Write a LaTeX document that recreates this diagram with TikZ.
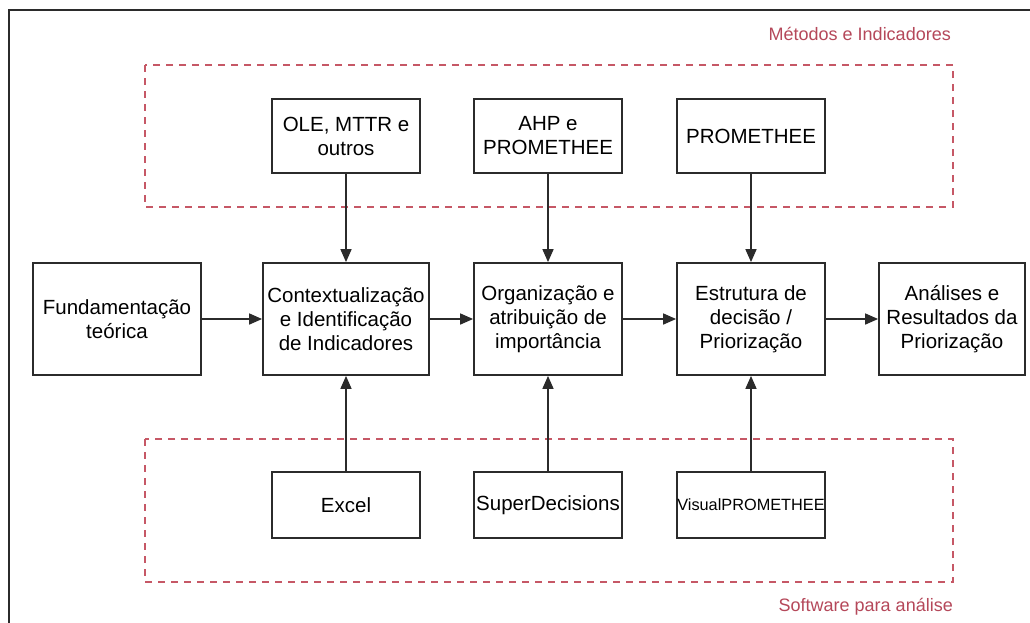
\documentclass[tikz,border=0pt]{standalone}
\usepackage{fontspec}
\setmainfont{Liberation Sans}
\usetikzlibrary{arrows.meta}
\definecolor{framegray}{HTML}{2B2B2B}
\definecolor{groupred}{HTML}{C65866}
\definecolor{labelred}{HTML}{B5485A}
\tikzset{
  box/.style={draw=framegray, line width=1.8pt, fill=white, align=center,
    inner sep=0pt, font=\fontsize{20.5}{24}\selectfont},
  mainbox/.style={box, minimum height=112pt},
  topbox/.style={box, minimum height=74pt},
  softbox/.style={box, minimum height=66pt},
  group/.style={draw=groupred, line width=1.4pt, dash pattern=on 7pt off 6pt},
  grouplabel/.style={text=labelred, anchor=east, inner sep=0pt,
    font=\fontsize{18}{21}\selectfont},
  flow/.style={draw=framegray, line width=1.6pt,
    -{Triangle[length=13pt,width=11pt]}},
}
\begin{document}
\begin{tikzpicture}[x=1pt,y=-1pt]
\useasboundingbox (0,0) rectangle (1030,622);
\fill[white] (0,0) rectangle (1030,622);
\begin{scope}
\clip (0,0) rectangle (1030,622);
% outer frame (left and top edges visible)
\draw[framegray, line width=2pt] (9,640) -- (9,10) -- (1050,10);
\end{scope}

% group frames
\draw[group] (145,65) rectangle (953,207);
\draw[group] (145,439) rectangle (953,582);
\node[grouplabel] (lblmet) at (951,34) {Métodos e Indicadores};
\node[grouplabel] (lblsoft) at (953,607) {Software para análise};

% main process row
\node[mainbox, minimum width=168pt] (fund) at (117,319) {Fundamentação\\teórica};
\node[mainbox, minimum width=166pt] (ctx) at (346,319) {Contextualização\\e Identificação\\de Indicadores};
\node[mainbox, minimum width=148pt] (org) at (548,319) {Organização e\\atribuição de\\importância};
\node[mainbox, minimum width=148pt] (est) at (751,319) {Estrutura de\\decisão /\\Priorização};
\node[mainbox, minimum width=146pt] (ana) at (952,319) {Análises e\\Resultados da\\Priorização};

% methods and indicators
\node[topbox, minimum width=148pt] (ole) at (346,136) {OLE, MTTR e\\outros};
\node[topbox, minimum width=148pt] (ahp) at (548,136) {AHP e\\PROMETHEE};
\node[topbox, minimum width=148pt] (prom) at (751,136) {PROMETHEE};

% software
\node[softbox, minimum width=148pt] (excel) at (346,505) {Excel};
\node[softbox, minimum width=148pt] (super) at (548,505) {SuperDecisions};
\node[softbox, minimum width=148pt, font=\fontsize{16.3}{19}\selectfont] (visual) at (751,505) {VisualPROMETHEE};

% connectors
\draw[flow] (fund) -- (ctx);
\draw[flow] (ctx) -- (org);
\draw[flow] (org) -- (est);
\draw[flow] (est) -- (ana);
\draw[flow] (ole) -- (ctx);
\draw[flow] (ahp) -- (org);
\draw[flow] (prom) -- (est);
\draw[flow] (excel) -- (ctx);
\draw[flow] (super) -- (org);
\draw[flow] (visual) -- (est);
\end{tikzpicture}
\end{document}
